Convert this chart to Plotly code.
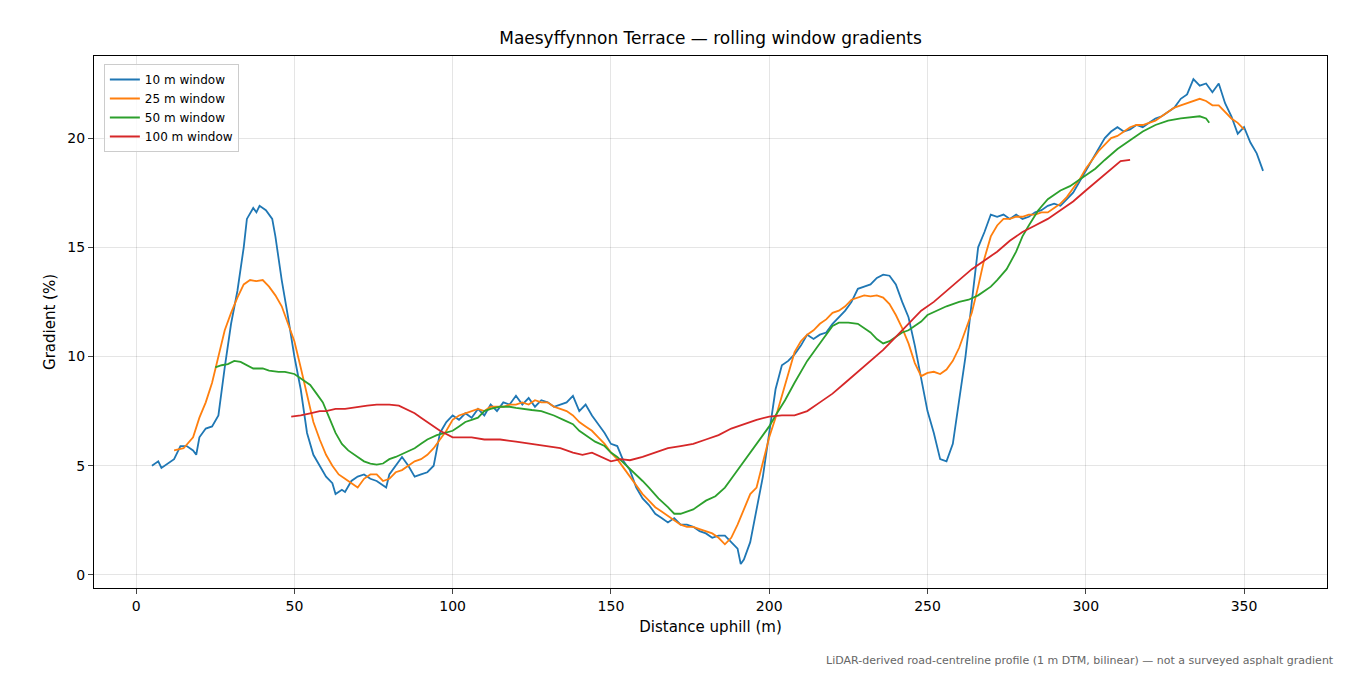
import plotly.graph_objects as go

# 10 m window
x10 = [5, 7, 8, 10, 12, 14, 16, 18, 19, 20, 22, 24, 26, 28, 30, 32, 34, 35, 37, 38, 39, 41, 43, 44, 46, 48, 50,
       52, 54, 56, 58, 60, 62, 63, 65, 66, 68, 70, 72, 74, 76, 78, 79, 80, 82, 84, 86, 88, 90, 92, 94, 96, 98, 100,
       102, 104, 106, 108, 110, 112, 114, 116, 118, 120, 122, 124, 126, 128, 130, 132, 134, 136, 138, 140, 142,
       144, 146, 148, 150, 152, 154, 156, 158, 160, 162, 164, 166, 168, 170, 172, 174, 176, 178, 180, 182, 184,
       186, 188, 190, 191, 192, 194, 196, 198, 200, 202, 204, 206, 208, 210, 212, 214, 216, 218, 220, 222, 224,
       226, 228, 230, 232, 234, 236, 238, 240, 242, 244, 246, 248, 250, 252, 254, 256, 258, 260, 262, 264, 266,
       268, 270, 272, 274, 276, 278, 280, 282, 284, 286, 288, 290, 292, 294, 296, 298, 300, 302, 304, 306, 308,
       310, 312, 314, 316, 318, 320, 322, 324, 326, 328, 330, 332, 334, 336, 338, 340, 342, 344, 346, 348, 350,
       352, 354, 356, 358.5]
y10 = [5.0, 5.2, 4.9, 5.1, 5.3, 5.9, 5.9, 5.7, 5.5, 6.3, 6.7, 6.8, 7.3, 9.5, 11.5, 13.0, 15.0, 16.3, 16.8, 16.6,
       16.9, 16.7, 16.3, 15.5, 13.5, 11.8, 10.0, 8.5, 6.5, 5.5, 5.0, 4.5, 4.2, 3.7, 3.9, 3.8, 4.3, 4.5, 4.6, 4.4,
       4.3, 4.1, 4.0, 4.6, 5.0, 5.4, 5.0, 4.5, 4.6, 4.7, 5.0, 6.5, 7.0, 7.3, 7.1, 7.4, 7.2, 7.6, 7.3, 7.8, 7.5,
       7.9, 7.8, 8.2, 7.8, 8.1, 7.7, 8.0, 7.9, 7.7, 7.8, 7.9, 8.2, 7.5, 7.8, 7.3, 6.9, 6.5, 6.0, 5.9, 5.2, 4.8,
       4.0, 3.5, 3.2, 2.8, 2.6, 2.4, 2.6, 2.3, 2.3, 2.2, 2.0, 1.9, 1.7, 1.8, 1.8, 1.5, 1.2, 0.5, 0.7, 1.5, 3.0,
       4.5, 6.5, 8.5, 9.6, 9.8, 10.1, 10.5, 11.0, 10.8, 11.0, 11.1, 11.5, 11.8, 12.1, 12.5, 13.1, 13.2, 13.3,
       13.6, 13.75, 13.7, 13.3, 12.5, 11.8, 10.5, 9.0, 7.5, 6.5, 5.3, 5.2, 6.0, 8.0, 10.0, 12.5, 15.0, 15.7, 16.5,
       16.4, 16.5, 16.3, 16.5, 16.3, 16.4, 16.6, 16.7, 16.9, 17.0, 16.9, 17.2, 17.5, 18.0, 18.5, 19.0, 19.5, 20.0,
       20.3, 20.5, 20.3, 20.4, 20.6, 20.5, 20.7, 20.9, 21.0, 21.2, 21.4, 21.8, 22.0, 22.7, 22.4, 22.5, 22.1, 22.5,
       21.6, 21.0, 20.2, 20.5, 19.8, 19.3, 18.5]

# 25 m window
x25 = [12, 15, 18, 20, 22, 24, 26, 28, 30, 32, 34, 36, 38, 40, 42, 44, 46, 48, 50, 52, 54, 56, 58, 60, 62, 64,
       66, 68, 70, 72, 74, 76, 78, 80, 82, 84, 86, 88, 90, 92, 94, 96, 98, 100, 102, 104, 106, 108, 110, 112, 114,
       116, 118, 120, 122, 124, 126, 128, 130, 132, 134, 136, 138, 140, 142, 144, 146, 148, 150, 152, 154, 156,
       158, 160, 162, 164, 166, 168, 170, 172, 174, 176, 178, 180, 182, 184, 186, 188, 190, 192, 194, 196, 198,
       200, 202, 204, 206, 208, 210, 212, 214, 216, 218, 220, 222, 224, 226, 228, 230, 232, 234, 236, 238, 240,
       242, 244, 246, 248, 250, 252, 254, 256, 258, 260, 262, 264, 266, 268, 270, 272, 274, 276, 278, 280, 282,
       284, 286, 288, 290, 292, 294, 296, 298, 300, 302, 304, 306, 308, 310, 312, 314, 316, 318, 320, 322, 324,
       326, 328, 330, 332, 334, 336, 338, 340, 342, 344, 346, 348, 350]
y25 = [5.7, 5.8, 6.3, 7.2, 7.9, 8.8, 10.0, 11.2, 12.0, 12.7, 13.3, 13.5, 13.45, 13.5, 13.2, 12.8, 12.3, 11.5,
       10.7, 9.5, 8.2, 7.0, 6.2, 5.5, 5.0, 4.6, 4.4, 4.2, 4.0, 4.4, 4.6, 4.6, 4.3, 4.4, 4.7, 4.8, 5.0, 5.2, 5.3,
       5.5, 5.8, 6.2, 6.6, 7.1, 7.3, 7.4, 7.5, 7.6, 7.5, 7.7, 7.7, 7.7, 7.8, 7.8, 7.9, 7.8, 8.0, 7.9, 7.9, 7.7,
       7.6, 7.5, 7.3, 7.0, 6.8, 6.6, 6.3, 6.0, 5.6, 5.3, 4.9, 4.5, 4.1, 3.7, 3.4, 3.1, 2.9, 2.7, 2.5, 2.3, 2.2,
       2.2, 2.1, 2.0, 1.9, 1.7, 1.4, 1.7, 2.3, 3.0, 3.7, 4.0, 5.2, 6.3, 7.2, 8.2, 9.2, 10.2, 10.7, 11.0, 11.2,
       11.5, 11.7, 12.0, 12.1, 12.3, 12.6, 12.7, 12.8, 12.75, 12.8, 12.7, 12.4, 11.9, 11.3, 10.6, 9.7, 9.1, 9.25,
       9.3, 9.2, 9.4, 9.8, 10.4, 11.2, 12.0, 13.2, 14.5, 15.5, 16.0, 16.3, 16.3, 16.4, 16.4, 16.5, 16.5, 16.6,
       16.6, 16.8, 17.0, 17.3, 17.7, 18.1, 18.6, 19.0, 19.4, 19.7, 20.0, 20.1, 20.3, 20.5, 20.6, 20.6, 20.7, 20.8,
       21.0, 21.2, 21.4, 21.5, 21.6, 21.7, 21.8, 21.7, 21.5, 21.5, 21.2, 20.9, 20.7, 20.4]

# 50 m window
x50 = [25, 27, 29, 31, 33, 35, 37, 40, 42, 45, 47, 50, 52, 55, 57, 59, 61, 63, 65, 67, 70, 72, 74, 76, 78, 80,
       82, 85, 88, 90, 92, 95, 98, 100, 102, 104, 106, 108, 110, 112, 115, 118, 120, 122, 125, 128, 130, 132, 135,
       138, 140, 142, 145, 148, 150, 152, 155, 158, 160, 162, 165, 168, 170, 172, 174, 176, 178, 180, 183, 186,
       189, 192, 195, 198, 200, 202, 205, 208, 210, 212, 215, 218, 220, 222, 225, 228, 230, 232, 234, 236, 238,
       240, 242, 244, 246, 248, 250, 253, 256, 260, 263, 266, 268, 270, 272, 275, 278, 280, 282, 285, 288, 290,
       292, 295, 298, 300, 303, 306, 310, 314, 318, 322, 326, 330, 333, 336, 338, 339]
y50 = [9.5, 9.6, 9.65, 9.8, 9.75, 9.6, 9.45, 9.45, 9.35, 9.3, 9.3, 9.2, 9.0, 8.7, 8.3, 7.9, 7.2, 6.5, 6.0, 5.7,
       5.4, 5.2, 5.1, 5.05, 5.1, 5.3, 5.4, 5.6, 5.8, 6.0, 6.2, 6.4, 6.5, 6.6, 6.8, 7.0, 7.1, 7.2, 7.5, 7.6, 7.7,
       7.7, 7.65, 7.6, 7.55, 7.5, 7.4, 7.3, 7.1, 6.9, 6.6, 6.4, 6.1, 5.9, 5.6, 5.4, 5.0, 4.6, 4.3, 4.0, 3.5, 3.1,
       2.8, 2.8, 2.9, 3.0, 3.2, 3.4, 3.6, 4.0, 4.6, 5.2, 5.8, 6.4, 6.8, 7.3, 8.0, 8.8, 9.3, 9.8, 10.4, 11.0, 11.4,
       11.55, 11.55, 11.5, 11.3, 11.1, 10.8, 10.6, 10.7, 10.9, 11.1, 11.2, 11.4, 11.6, 11.9, 12.1, 12.3, 12.5,
       12.6, 12.8, 13.0, 13.2, 13.5, 14.0, 14.8, 15.5, 16.0, 16.7, 17.2, 17.4, 17.6, 17.8, 18.1, 18.3, 18.6, 19.0,
       19.5, 19.9, 20.3, 20.6, 20.8, 20.9, 20.95, 21.0, 20.9, 20.7]

# 100 m window
x100 = [49, 52, 55, 58, 60, 63, 66, 70, 73, 76, 80, 83, 85, 88, 90, 93, 96, 100, 103, 106, 110, 115, 120, 125,
        130, 134, 138, 141, 144, 147, 150, 153, 156, 160, 164, 168, 172, 176, 180, 184, 188, 192, 196, 200, 204,
        208, 212, 216, 220, 224, 228, 232, 236, 240, 244, 248, 252, 256, 260, 264, 268, 272, 276, 280, 284, 288,
        292, 296, 300, 304, 308, 311, 314]
y100 = [7.25, 7.3, 7.4, 7.5, 7.5, 7.6, 7.6, 7.7, 7.75, 7.8, 7.8, 7.75, 7.6, 7.4, 7.2, 6.9, 6.6, 6.3, 6.3, 6.3,
        6.2, 6.2, 6.1, 6.0, 5.9, 5.8, 5.6, 5.5, 5.6, 5.4, 5.2, 5.3, 5.25, 5.4, 5.6, 5.8, 5.9, 6.0, 6.2, 6.4, 6.7,
        6.9, 7.1, 7.25, 7.3, 7.3, 7.5, 7.9, 8.3, 8.8, 9.3, 9.8, 10.3, 10.9, 11.5, 12.1, 12.5, 13.0, 13.5, 14.0,
        14.4, 14.8, 15.3, 15.7, 16.0, 16.3, 16.7, 17.1, 17.6, 18.1, 18.6, 18.95, 19.0]

series = [
    ("10 m window", x10, y10, "#1f77b4"),
    ("25 m window", x25, y25, "#ff7f0e"),
    ("50 m window", x50, y50, "#2ca02c"),
    ("100 m window", x100, y100, "#d62728"),
]

fig = go.Figure()
for name, xs, ys, col in series:
    fig.add_trace(go.Scatter(x=xs, y=ys, name=name, mode="lines", line=dict(color=col, width=1.8)))

axis_style = dict(showline=True, linecolor="black", mirror=True, ticks="outside", ticklen=5,
                  showgrid=True, gridcolor="rgba(0,0,0,0.1)", zeroline=False,
                  tickfont=dict(size=14, color="black"))

# page has an 8px body margin, so margins are shifted to compensate
fig.update_layout(
    width=1350, height=675,
    paper_bgcolor="white", plot_bgcolor="white",
    font=dict(family="DejaVu Sans", color="black"),
    title=dict(text="Maesyffynnon Terrace — rolling window gradients", x=0.5, xanchor="center",
               xref="paper", y=0.965, font=dict(size=17)),
    margin=dict(l=86, r=31, t=48, b=95),
    xaxis=dict(range=[-13.3, 376.2], tickvals=[0, 50, 100, 150, 200, 250, 300, 350],
               title=dict(text="Distance uphill (m)", font=dict(size=15), standoff=8), **axis_style),
    yaxis=dict(range=[-0.6, 23.76], tickvals=[0, 5, 10, 15, 20],
               title=dict(text="Gradient (%)", font=dict(size=15), standoff=8), **axis_style),
    legend=dict(x=0.008, y=0.985, xanchor="left", yanchor="top", bgcolor="rgba(255,255,255,0.8)",
                bordercolor="#cccccc", borderwidth=1, font=dict(size=12)),
    showlegend=True,
)

fig.add_annotation(text="LiDAR-derived road-centreline profile (1 m DTM, bilinear) — not a surveyed asphalt gradient",
                   xref="paper", yref="paper", x=1.007, y=-0.12, xanchor="right", yanchor="top",
                   showarrow=False, font=dict(size=11, color="#666666"))

fig.write_html("out.html")
